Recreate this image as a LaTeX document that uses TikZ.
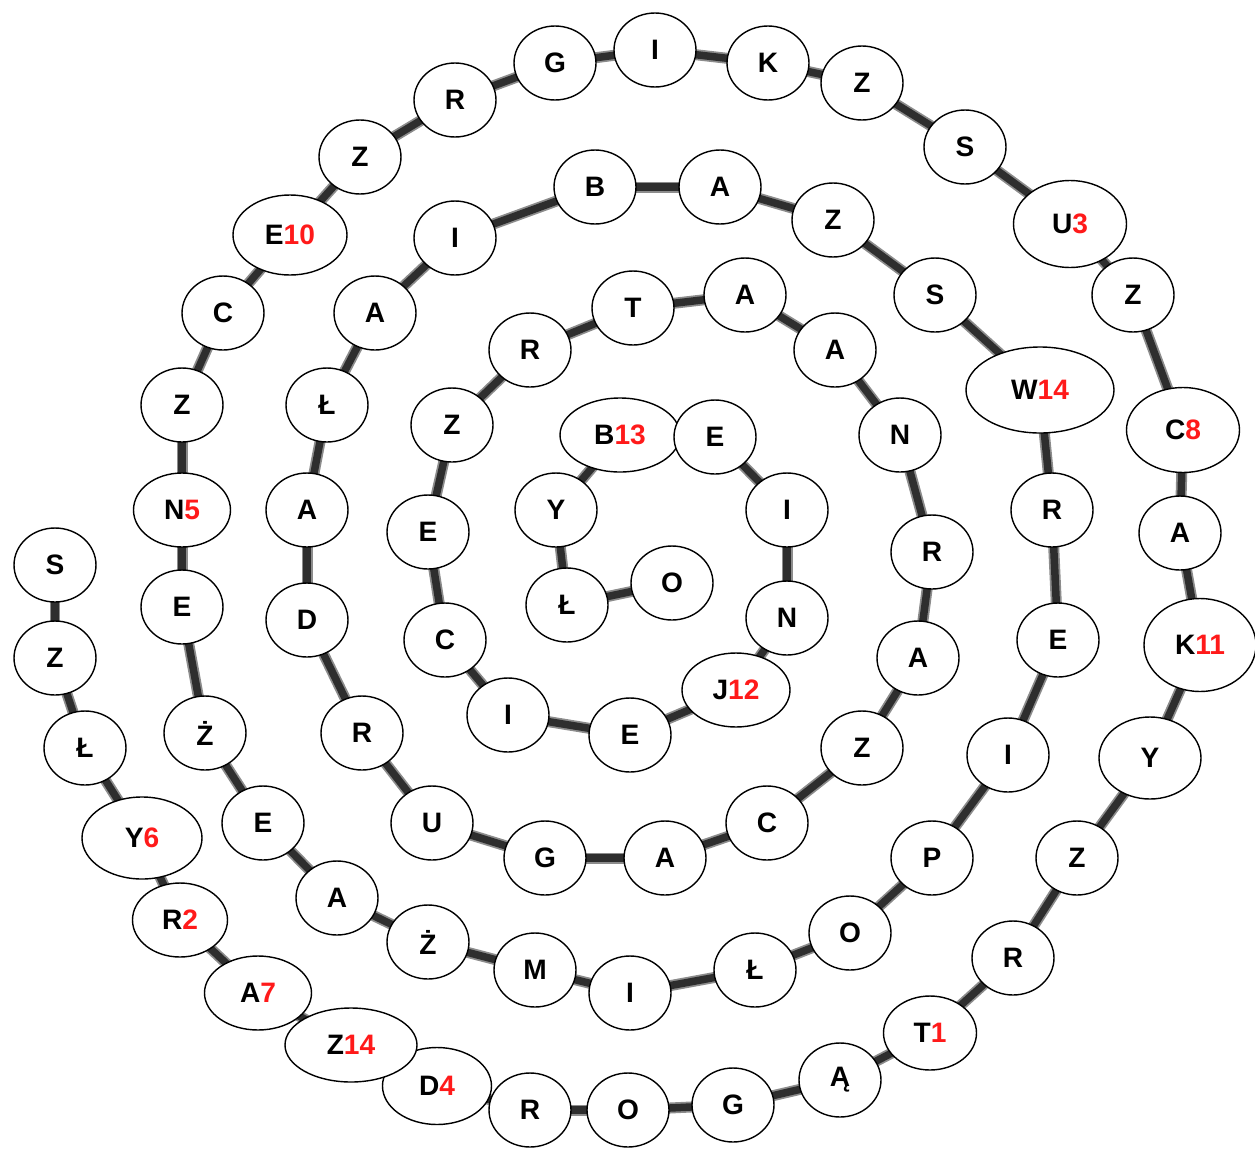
\documentclass[tikz,border=0pt]{standalone}
\usepackage{fontspec}
\setmainfont{Liberation Sans}
\definecolor{numred}{HTML}{FF1A1A}
\usepackage{tikz}
\usetikzlibrary{shapes.geometric,backgrounds}
\newcommand{\nr}[1]{\textcolor{numred}{#1}}

\begin{document}
\begin{tikzpicture}[x=0.02cm, y=-0.02cm,
  letter/.style={draw, ellipse, fill=white, line width=0.8pt, inner sep=0pt,
    minimum width=1.64cm, minimum height=1.48cm,
    font=\fontsize{16}{16}\selectfont\bfseries},
  wd/.style={minimum width=#1*0.02cm},
  ht/.style={minimum height=#1*0.02cm},
  halo/.style={black!45, line width=0.22cm, line cap=round},
  chain/.style={black!82, line width=0.15cm, line cap=round}]
  \useasboundingbox (0,0) rectangle (1255,1150);

  \node[letter] (n1) at (672,583) {O};
  \node[letter] (n2) at (567,605) {Ł};
  \node[letter] (n3) at (556,510) {Y};
  \node[letter, wd=120] (n4) at (620,435) {B\nr{13}};
  \node[letter] (n5) at (715,437) {E};
  \node[letter] (n6) at (787,510) {I};
  \node[letter] (n7) at (787,618) {N};
  \node[letter, wd=108] (n8) at (736,690) {J\nr{12}};
  \node[letter] (n9) at (630,735) {E};
  \node[letter] (n10) at (508,715) {I};
  \node[letter] (n11) at (445,640) {C};
  \node[letter] (n12) at (428,532) {E};
  \node[letter] (n13) at (452,425) {Z};
  \node[letter] (n14) at (530,350) {R};
  \node[letter] (n15) at (633,308) {T};
  \node[letter] (n16) at (745,295) {A};
  \node[letter] (n17) at (835,350) {A};
  \node[letter] (n18) at (900,435) {N};
  \node[letter] (n19) at (932,552) {R};
  \node[letter] (n20) at (918,658) {A};
  \node[letter] (n21) at (862,748) {Z};
  \node[letter] (n22) at (767,823) {C};
  \node[letter] (n23) at (665,858) {A};
  \node[letter] (n24) at (545,858) {G};
  \node[letter] (n25) at (432,823) {U};
  \node[letter] (n26) at (362,733) {R};
  \node[letter] (n27) at (307,620) {D};
  \node[letter] (n28) at (307,510) {A};
  \node[letter] (n29) at (327,405) {Ł};
  \node[letter] (n30) at (375,313) {A};
  \node[letter] (n31) at (455,238) {I};
  \node[letter] (n32) at (595,187) {B};
  \node[letter] (n33) at (720,187) {A};
  \node[letter] (n34) at (833,220) {Z};
  \node[letter] (n35) at (935,295) {S};
  \node[letter, wd=148, ht=86] (n36) at (1040,390) {W\nr{14}};
  \node[letter] (n37) at (1052,510) {R};
  \node[letter] (n38) at (1058,640) {E};
  \node[letter] (n39) at (1008,755) {I};
  \node[letter] (n40) at (932,858) {P};
  \node[letter] (n41) at (850,933) {O};
  \node[letter] (n42) at (755,970) {Ł};
  \node[letter] (n43) at (630,993) {I};
  \node[letter] (n44) at (535,970) {M};
  \node[letter] (n45) at (428,942) {Ż};
  \node[letter] (n46) at (337,898) {A};
  \node[letter] (n47) at (263,823) {E};
  \node[letter] (n48) at (205,733) {Ż};
  \node[letter] (n49) at (182,607) {E};
  \node[letter, wd=97] (n50) at (182,510) {N\nr{5}};
  \node[letter] (n51) at (182,405) {Z};
  \node[letter] (n52) at (223,313) {C};
  \node[letter, wd=114, ht=80] (n53) at (290,235) {E\nr{10}};
  \node[letter] (n54) at (360,157) {Z};
  \node[letter] (n55) at (455,100) {R};
  \node[letter] (n56) at (555,63) {G};
  \node[letter] (n57) at (655,50) {I};
  \node[letter] (n58) at (768,63) {K};
  \node[letter] (n59) at (862,83) {Z};
  \node[letter] (n60) at (965,147) {S};
  \node[letter, wd=113, ht=87] (n61) at (1070,224) {U\nr{3}};
  \node[letter] (n62) at (1133,295) {Z};
  \node[letter, wd=113, ht=85] (n63) at (1183,430) {C\nr{8}};
  \node[letter] (n64) at (1180,533) {A};
  \node[letter, wd=112, ht=93] (n65) at (1200,645) {K\nr{11}};
  \node[letter, wd=102, ht=82] (n66) at (1150,758) {Y};
  \node[letter] (n67) at (1077,858) {Z};
  \node[letter] (n68) at (1013,958) {R};
  \node[letter, wd=93] (n69) at (930,1033) {T\nr{1}};
  \node[letter] (n70) at (840,1080) {Ą};
  \node[letter] (n71) at (733,1105) {G};
  \node[letter] (n72) at (628,1110) {O};
  \node[letter] (n73) at (530,1110) {R};
  \node[letter, wd=109, ht=77] (n74) at (437,1086) {D\nr{4}};
  \node[letter, wd=132] (n75) at (351,1045) {Z\nr{14}};
  \node[letter, wd=107] (n76) at (258,993) {A\nr{7}};
  \node[letter, wd=95] (n77) at (180,920) {R\nr{2}};
  \node[letter, wd=120, ht=82] (n78) at (142,838) {Y\nr{6}};
  \node[letter] (n79) at (85,748) {Ł};
  \node[letter] (n80) at (55,658) {Z};
  \node[letter] (n81) at (55,565) {S};

  \begin{scope}[on background layer]
    \foreach \a [count=\b from 2] in {1,...,80}
      \draw[halo] (n\a.center) -- (n\b.center);
    \foreach \a [count=\b from 2] in {1,...,80}
      \draw[chain] (n\a.center) -- (n\b.center);
  \end{scope}
\end{tikzpicture}
\end{document}
